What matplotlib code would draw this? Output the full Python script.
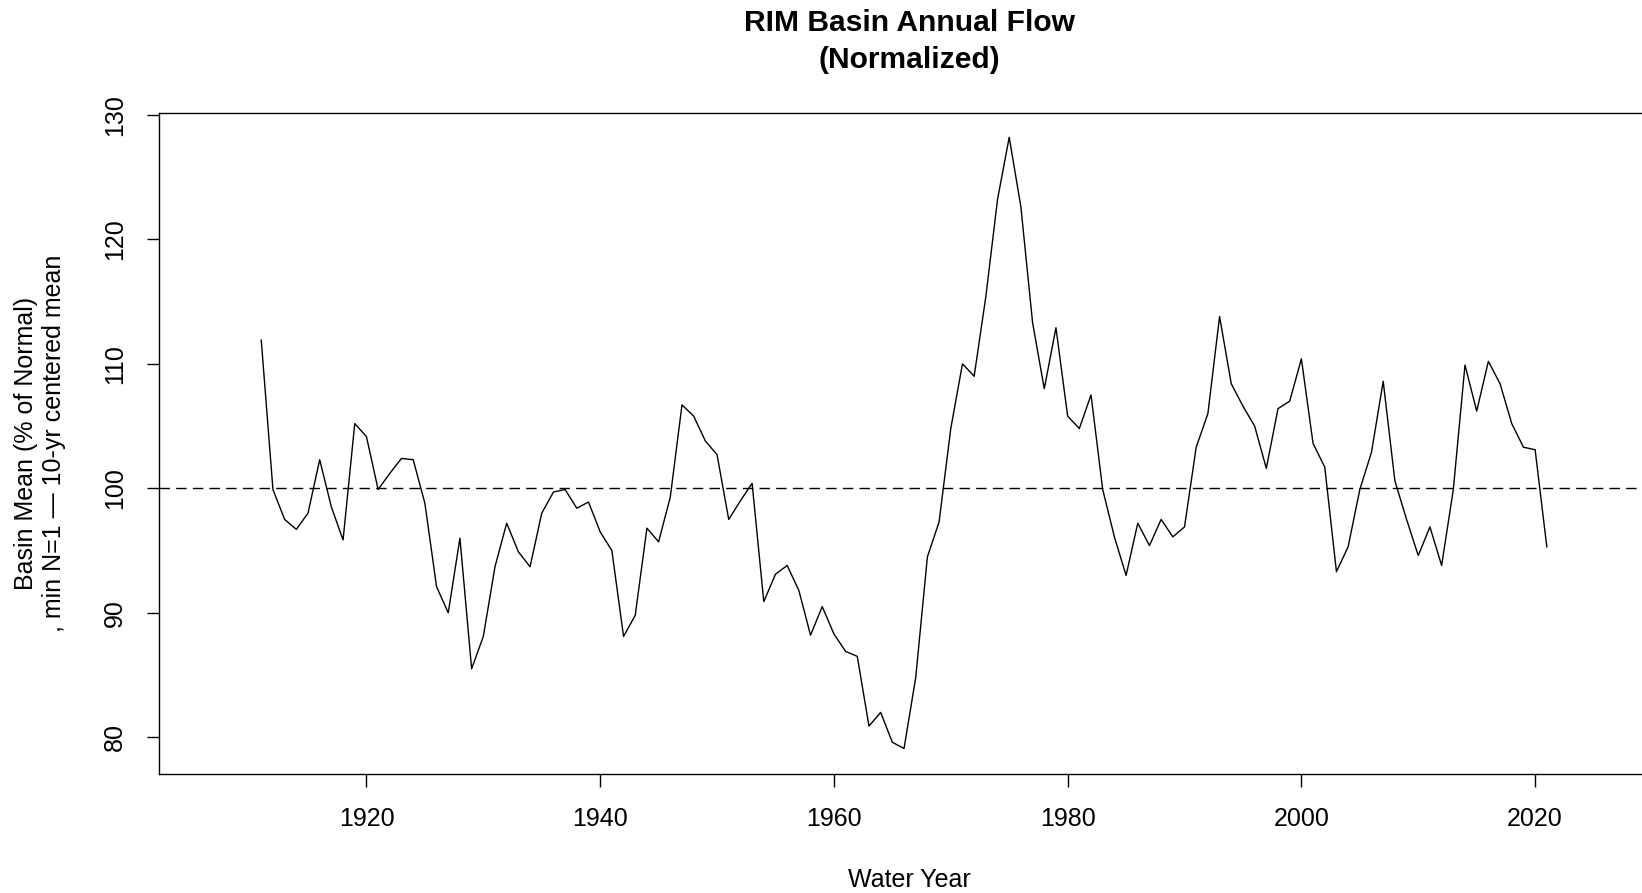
import numpy as np
import matplotlib
matplotlib.use('Agg')
import matplotlib.pyplot as plt

plt.rcParams['font.family'] = ['Liberation Sans', 'DejaVu Sans']

years = np.arange(1911, 2022)
flow_pct = np.asarray([
    111.9, 99.9, 97.5, 96.7, 98.0, 102.3, 98.5, 95.85, 105.2, 104.15,   # 1911-1920
    99.9, 101.2, 102.4, 102.3, 98.8, 92.1, 90.0, 96.0, 85.5, 88.1,       # 1921-1930
    93.7, 97.2, 94.9, 93.7, 98.0, 99.7, 99.9, 98.4, 98.9, 96.5,          # 1931-1940
    95.0, 88.1, 89.8, 96.8, 95.7, 99.3, 106.7, 105.8, 103.8, 102.7,      # 1941-1950
    97.5, 99.0, 100.4, 90.9, 93.1, 93.8, 91.8, 88.2, 90.5, 88.3,         # 1951-1960
    86.9, 86.5, 80.9, 82.0, 79.6, 79.1, 84.8, 94.5, 97.3, 104.8,         # 1961-1970
    110.0, 109.0, 115.4, 123.2, 128.2, 122.6, 113.3, 108.0, 112.9, 105.8,  # 1971-1980
    104.8, 107.5, 99.9, 96.1, 93.0, 97.2, 95.4, 97.5, 96.1, 96.9,        # 1981-1990
    103.3, 106.0, 113.8, 108.4, 106.6, 105.0, 101.6, 106.4, 107.0, 110.4,  # 1991-2000
    103.6, 101.7, 93.3, 95.3, 99.9, 102.9, 108.6, 100.6, 97.5, 94.6,     # 2001-2010
    96.9, 93.8, 99.9, 109.9, 106.2, 110.2, 108.4, 105.2, 103.3, 103.1,   # 2011-2020
    95.3,                                                                # 2021
])
normal_line = 100
x_ticks = [1920, 1940, 1960, 1980, 2000, 2020]
y_ticks = [80, 90, 100, 110, 120, 130]

W, H = 1642, 893
fSize = 18

fig = plt.figure(figsize=(W / 100, H / 100), dpi=100)
# plot region runs a little past the right edge, as in the original
ax = fig.add_axes([159 / W, 1 - 773.9 / H, 1500 / W, (773.9 - 112.7) / H])

ax.plot(years, flow_pct, '-', color='black', lw=1.0)
ax.axhline(normal_line, color='black', lw=1.0, dashes=(7.5, 4.5))

ax.set_xlim(1902.25, 2030.6)
ax.set_ylim(77.06, 130.17)
ax.set_xticks(x_ticks)
ax.set_xticklabels([str(t) for t in x_ticks], fontsize=fSize)
ax.set_yticks(y_ticks)
ax.set_yticklabels([str(t) for t in y_ticks], fontsize=fSize, rotation=90, va='center')
ax.tick_params(axis='both', direction='out', length=9, width=1.0, colors='black')
ax.tick_params(axis='x', pad=15)
ax.tick_params(axis='y', pad=14)
for sp in ax.spines.values():
    sp.set_linewidth(1.0)
    sp.set_color('black')

cx = 909 / W
fig.text(cx, 1 - 23 / H, 'RIM Basin Annual Flow', ha='center', va='center',
         fontsize=21.6, fontweight='bold')
fig.text(cx, 1 - 59.6 / H, '(Normalized)', ha='center', va='center',
         fontsize=21.6, fontweight='bold')
fig.text(cx, 1 - 879.6 / H, 'Water Year', ha='center', va='center', fontsize=fSize)

ymid = 1 - 443.3 / H
fig.text(26 / W, ymid, 'Basin Mean (% of Normal)', rotation=90,
         ha='center', va='center', fontsize=fSize)
fig.text(54.5 / W, ymid, ', min N=1 \u2014 10-yr centered mean', rotation=90,
         ha='center', va='center', fontsize=fSize)

fig.savefig('out.png', dpi=100)
